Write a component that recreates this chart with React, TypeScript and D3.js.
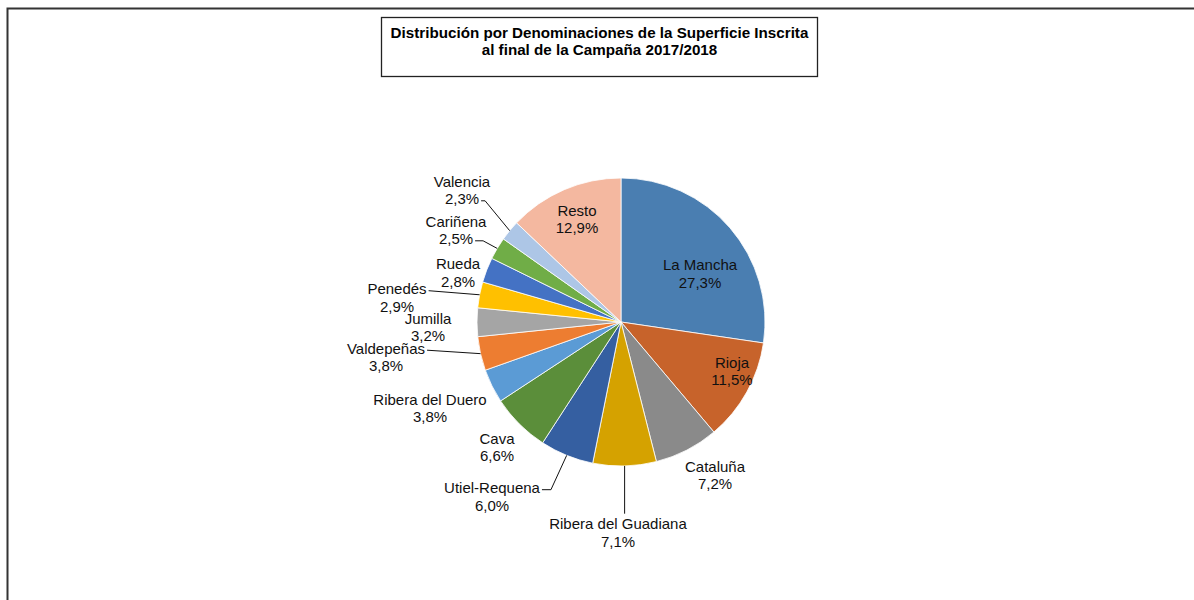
import React, { useEffect, useRef } from "react";
import * as d3 from "d3";

const titleLines = [
  "Distribución por Denominaciones de la Superficie Inscrita",
  "al final de la Campaña 2017/2018",
];

const categories = [
  "La Mancha",
  "Rioja",
  "Cataluña",
  "Ribera del Guadiana",
  "Utiel-Requena",
  "Cava",
  "Ribera del Duero",
  "Valdepeñas",
  "Jumilla",
  "Penedés",
  "Rueda",
  "Cariñena",
  "Valencia",
  "Resto",
];

const values = [27.3, 11.5, 7.2, 7.1, 6.0, 6.6, 3.8, 3.8, 3.2, 2.9, 2.8, 2.5, 2.3, 12.9];

const colors = [
  "#4a7eb1",
  "#c7632b",
  "#8a8a8a",
  "#d5a200",
  "#355fa1",
  "#5b8e3a",
  "#5b9bd5",
  "#ed7d31",
  "#a5a5a5",
  "#ffc000",
  "#4472c4",
  "#70ad47",
  "#adc6e6",
  "#f4b8a0",
];

// label layout: offset of the two-line block centre from the pie centre,
// optional leader: side line attached to line index with an elbow length, or "top"
type Leader = { kind: "side"; line: number; elbow: number } | { kind: "top" } | null;
const labelLayout: { dx: number; dy: number; leader: Leader }[] = [
  { dx: 79, dy: -48.5, leader: null },
  { dx: 111, dy: 49, leader: null },
  { dx: 94, dy: 153, leader: null },
  { dx: -3, dy: 210.5, leader: { kind: "top" } },
  { dx: -129, dy: 174.5, leader: { kind: "side", line: 0, elbow: 9 } },
  { dx: -124, dy: 125, leader: null },
  { dx: -191, dy: 86, leader: null },
  { dx: -235, dy: 35, leader: { kind: "side", line: 0, elbow: 0 } },
  { dx: -193, dy: 5, leader: null },
  { dx: -224, dy: -24.5, leader: { kind: "side", line: 0, elbow: 0 } },
  { dx: -163, dy: -49.5, leader: null },
  { dx: -165, dy: -92, leader: { kind: "side", line: 1, elbow: 8 } },
  { dx: -159, dy: -132, leader: { kind: "side", line: 1, elbow: 4 } },
  { dx: -44, dy: -103, leader: null },
];

const W = 1194;
const H = 600;
const FONT = "'Liberation Sans', Arial, sans-serif";

export default function App() {
  const ref = useRef<SVGSVGElement | null>(null);

  useEffect(() => {
    const svg = d3.select(ref.current);
    svg.selectAll("*").remove();

    // outer chart border
    svg
      .append("rect")
      .attr("x", 7.5)
      .attr("y", 8.5)
      .attr("width", 1300)
      .attr("height", 700)
      .attr("fill", "white")
      .attr("stroke", "#333")
      .attr("stroke-width", 2);

    // title box
    svg
      .append("rect")
      .attr("x", 381.5)
      .attr("y", 17.5)
      .attr("width", 436)
      .attr("height", 59)
      .attr("fill", "white")
      .attr("stroke", "#222")
      .attr("stroke-width", 1.3);
    titleLines.forEach((t, i) => {
      svg
        .append("text")
        .attr("x", 599.5)
        .attr("y", 37.5 + i * 17)
        .attr("text-anchor", "middle")
        .attr("font-family", FONT)
        .attr("font-weight", "bold")
        .attr("font-size", 15.2)
        .attr("fill", "#000")
        .text(t);
    });

    const cx = 621;
    const cy = 322;
    const R = 144;

    const data = categories.map((c, i) => ({ name: c, value: values[i], color: colors[i], i }));
    const pie = d3
      .pie<(typeof data)[number]>()
      .value((d) => d.value)
      .sort(null);
    const arcs = pie(data);
    const arc = d3
      .arc<d3.PieArcDatum<(typeof data)[number]>>()
      .innerRadius(0)
      .outerRadius(R);

    const g = svg.append("g").attr("transform", `translate(${cx},${cy})`);
    g.selectAll("path.slice")
      .data(arcs)
      .enter()
      .append("path")
      .attr("class", "slice")
      .attr("d", arc as any)
      .attr("fill", (d) => d.data.color)
      .attr("stroke", "white")
      .attr("stroke-width", 0.8);

    const fmt = (v: number) => v.toFixed(1).replace(".", ",") + "%";
    const fs = 15;
    const lineGap = 17.6;

    arcs.forEach((a, k) => {
      const lay = labelLayout[k];
      const lx = lay.dx;
      const ly = lay.dy;
      const lines = [a.data.name, fmt(a.data.value)];
      const widths: number[] = [];
      lines.forEach((t, j) => {
        const yc = ly + (j === 0 ? -lineGap / 2 : lineGap / 2);
        const txt = g
          .append("text")
          .attr("x", lx)
          .attr("y", yc + 5.3)
          .attr("text-anchor", "middle")
          .attr("font-family", FONT)
          .attr("font-size", fs)
          .attr("fill", "#111")
          .text(t);
        widths.push((txt.node() as SVGTextElement).getComputedTextLength());
      });
      const mid = (a.startAngle + a.endAngle) / 2;
      const ex = R * Math.sin(mid);
      const ey = -R * Math.cos(mid);
      if (lay.leader) {
        let pts: [number, number][] = [];
        if (lay.leader.kind === "top") {
          const top = ly - lineGap / 2 - 10;
          pts = [
            [ex, top],
            [ex, ey],
          ];
        } else {
          const j = lay.leader.line;
          const yc = ly + (j === 0 ? -lineGap / 2 : lineGap / 2) + 2;
          const sx = lx + widths[j] / 2 + 2;
          pts = [
            [sx, yc],
            [sx + lay.leader.elbow, yc],
            [ex, ey],
          ];
        }
        g.append("path")
          .attr("d", d3.line()(pts) as string)
          .attr("fill", "none")
          .attr("stroke", "#111")
          .attr("stroke-width", 1);
      }
    });
  }, []);

  return (
    <svg
      ref={ref}
      width={W}
      height={H}
      style={{ position: "absolute", left: 0, top: 0, background: "white" }}
    />
  );
}
